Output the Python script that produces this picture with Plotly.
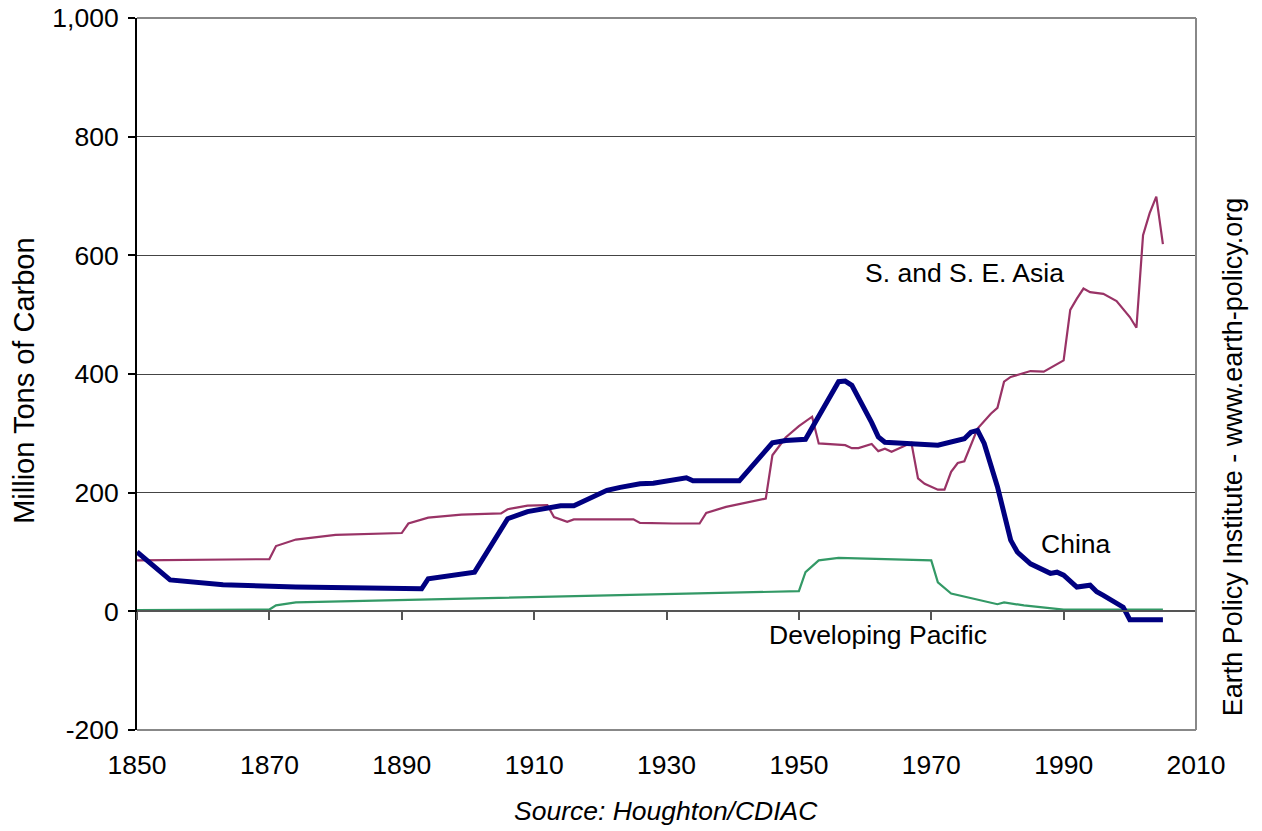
import plotly.graph_objects as go

# ---- data ----
china_years = [1850, 1855, 1863, 1874, 1893, 1894, 1901, 1906, 1909, 1912, 1914, 1916,
               1921, 1923, 1926, 1928, 1932, 1933, 1934, 1941, 1946, 1948, 1951, 1956,
               1957, 1958, 1961, 1962, 1963, 1971, 1975, 1976, 1977, 1978, 1980, 1982,
               1983, 1985, 1988, 1989, 1990, 1992, 1994, 1995, 1996, 1997, 1999, 2000, 2005]
china_vals = [100, 53, 45, 41, 38, 55, 66, 156, 168, 173, 178, 178,
              204, 209, 215, 216, 224, 225, 220, 220, 284, 288, 290, 387,
              388, 381, 318, 294, 285, 280, 291, 302, 305, 283, 210, 120,
              100, 80, 64, 66, 61, 41, 44, 33, 27, 21, 7, -14, -14]

asia_years = [1850, 1870, 1871, 1874, 1880, 1890, 1891, 1894, 1899, 1905, 1906, 1909,
              1912, 1913, 1915, 1916, 1925, 1926, 1931, 1935, 1936, 1939, 1945, 1946,
              1948, 1950, 1952, 1953, 1957, 1958, 1959, 1961, 1962, 1963, 1964, 1967,
              1968, 1969, 1971, 1972, 1973, 1974, 1975, 1977, 1979, 1980, 1981, 1982,
              1985, 1986, 1987, 1990, 1991, 1992, 1993, 1994, 1996, 1998, 2000, 2001,
              2002, 2003, 2004, 2005]
asia_vals = [86, 88, 110, 121, 129, 132, 148, 158, 163, 165, 172, 178,
             179, 159, 151, 155, 155, 149, 148, 148, 166, 176, 190, 263,
             293, 312, 328, 283, 280, 275, 275, 282, 270, 274, 269, 284,
             224, 215, 205, 205, 235, 250, 253, 308, 333, 343, 387, 395,
             405, 404, 404, 423, 508, 527, 544, 538, 535, 523, 496, 478,
             634, 671, 699, 619]

pacific_years = [1850, 1870, 1871, 1874, 1950, 1951, 1953, 1956, 1970, 1971, 1973,
                 1980, 1981, 1984, 1990, 2005]
pacific_vals = [2, 3, 10, 15, 34, 66, 86, 90, 86, 49, 30, 12, 15, 10, 3, 3]

x_ticks = [1850, 1870, 1890, 1910, 1930, 1950, 1970, 1990, 2010]
y_ticks = [-200, 0, 200, 400, 600, 800, 1000]
y_tick_text = ["-200", "0", "200", "400", "600", "800", "1,000"]

FONT = "Liberation Sans, Arial, sans-serif"
FS = 26.5

fig = go.Figure()
fig.add_trace(go.Scatter(x=asia_years, y=asia_vals, mode="lines",
                         line=dict(color="#993366", width=2.2), name="S. and S. E. Asia"))
fig.add_trace(go.Scatter(x=pacific_years, y=pacific_vals, mode="lines",
                         line=dict(color="#339966", width=2.2), name="Developing Pacific"))
fig.add_trace(go.Scatter(x=china_years, y=china_vals, mode="lines",
                         line=dict(color="#000080", width=5), name="China"))
# helper (empty) trace so that the zero-crossing x axis is drawn
fig.add_trace(go.Scatter(x=[], y=[], xaxis="x2", yaxis="y", showlegend=False,
                         hoverinfo="skip"))

fig.update_layout(
    width=1262, height=831,
    margin=dict(l=137, r=66, t=18, b=101),
    paper_bgcolor="white", plot_bgcolor="white",
    showlegend=False,
    font=dict(family=FONT, size=FS, color="black"),
    xaxis=dict(range=[1850, 2010], tickvals=x_ticks, showline=False, showgrid=False,
               zeroline=False, ticks="outside", ticklen=11, tickcolor="rgba(0,0,0,0)",
               automargin=False, ticklabeloverflow="allow",
               tickfont=dict(size=FS, family=FONT, color="black")),
    xaxis2=dict(range=[1850, 2010], overlaying="x", anchor="free", position=1/6,
                side="bottom", tickvals=x_ticks, showticklabels=False,
                showline=True, linecolor="#555555", linewidth=1.5,
                ticks="outside", ticklen=8, tickcolor="#555555", tickwidth=1.5,
                showgrid=False, zeroline=False, automargin=False),
    yaxis=dict(range=[-200, 1000], tickvals=y_ticks, ticktext=y_tick_text,
               showline=True, linecolor="black", linewidth=2,
               ticks="outside", ticklen=7, tickcolor="black", tickwidth=1.5,
               showgrid=True, gridcolor="#444444", gridwidth=1, zeroline=False,
               automargin=False, ticklabelstandoff=4, ticklabeloverflow="allow",
               tickfont=dict(size=FS, family=FONT, color="black")),
)

# plot frame (top, right, bottom) in grey
frame = dict(color="#888888", width=2)
fig.add_shape(type="line", xref="paper", yref="paper", x0=0, x1=1, y0=1, y1=1, line=frame, layer="above")
fig.add_shape(type="line", xref="paper", yref="paper", x0=1, x1=1, y0=0, y1=1, line=frame, layer="above")
fig.add_shape(type="line", xref="paper", yref="paper", x0=0, x1=1, y0=0, y1=0, line=frame, layer="above")

def ann(text, x, y, ref="x", size=FS, angle=0, italic=False):
    xr, yr = ("x", "y") if ref == "x" else ("paper", "paper")
    fig.add_annotation(text=text, x=x, y=y, xref=xr, yref=yr, showarrow=False,
                       textangle=angle, xanchor="center", yanchor="middle",
                       font=dict(family=FONT, size=size, color="black",
                                 style="italic" if italic else "normal"))

ann("S. and S. E. Asia", 1975.0, 570)
ann("China", 1991.8, 113)
ann("Developing Pacific", 1961.9, -40)
ann("Million Tons of Carbon", -0.107, 0.49, ref="paper", size=29, angle=-90)
ann("Earth Policy Institute - www.earth-policy.org", 1.035, 0.383, ref="paper", size=27, angle=-90)
ann("Source: Houghton/CDIAC", 0.4995, -0.114, ref="paper", italic=True)

fig.write_html("out.html", config={"displayModeBar": False},
               post_script="document.body.style.margin='0';document.body.style.overflow='hidden';")
